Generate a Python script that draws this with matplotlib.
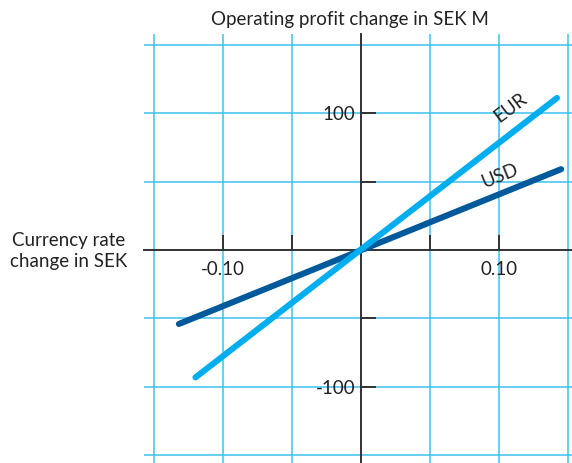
import matplotlib
matplotlib.use("Agg")
import matplotlib.pyplot as plt
from matplotlib.ticker import FixedLocator, FuncFormatter

plt.rcParams['font.family'] = ['Lato', 'DejaVu Sans']

# currency sensitivity: change in rate vs change in operating profit (SEK M)
eur_rate = [-0.12, 0.142]
eur_profit = [-93, 111]
usd_rate = [-0.132, 0.145]
usd_profit = [-54, 59]

grid_x = [-0.15, -0.10, -0.05, 0.05, 0.10, 0.15]
grid_y = [-150, -100, -50, 50, 100, 150]
tick_x = [-0.10, -0.05, 0.05, 0.10]
tick_y = [-100, -50, 50, 100]
labels_x = {-0.10: "-0.10", 0.10: "0.10"}
labels_y = {-100: "-100", 100: "100"}

grid_col = "#3EC0F0"
axis_col = "#333333"
txt_col = "#222222"
fs = 13.5

fig = plt.figure(figsize=(5.72, 4.63), dpi=100)
ax = fig.add_axes([144 / 572, 0.0, 428 / 572, 429 / 463])
ax.set_xlim(-0.1573, 0.1529)
ax.set_ylim(-155.5, 157.7)

for gx in grid_x:
    ax.axvline(gx, color=grid_col, lw=1.1, zorder=1)
for gy in grid_y:
    ax.axhline(gy, color=grid_col, lw=1.1, zorder=1)

ax.plot(usd_rate, usd_profit, color="#00599A", lw=4.4, solid_capstyle="round", zorder=3)
ax.plot(eur_rate, eur_profit, color="#00AEEF", lw=4.4, solid_capstyle="round", zorder=4)

ax.text(0.108, 104, "EUR", rotation=37, ha="center", va="center", fontsize=fs, color=txt_col)
ax.text(0.101, 54, "USD", rotation=22, ha="center", va="center", fontsize=fs, color=txt_col)

for side in ("top", "right"):
    ax.spines[side].set_visible(False)
for side in ("left", "bottom"):
    ax.spines[side].set_position("zero")
    ax.spines[side].set_color(axis_col)
    ax.spines[side].set_linewidth(1.4)
    ax.spines[side].set_zorder(2)

ax.xaxis.set_major_locator(FixedLocator(tick_x))
ax.yaxis.set_major_locator(FixedLocator(tick_y))
ax.xaxis.set_major_formatter(FuncFormatter(lambda v, p: labels_x.get(round(v, 2), "")))
ax.yaxis.set_major_formatter(FuncFormatter(lambda v, p: labels_y.get(int(round(v)), "")))
ax.tick_params(axis="x", direction="in", length=11, width=1.4, color=axis_col,
               pad=8, labelsize=fs, labelcolor=txt_col)
ax.tick_params(axis="y", direction="in", length=11, width=1.4, color=axis_col,
               pad=4, labelsize=fs, labelcolor=txt_col)

fig.text(350 / 572, 1 - 19 / 463, "Operating profit change in SEK M",
         ha="center", va="center", fontsize=fs, color=txt_col)
fig.text(69 / 572, 1 - 251 / 463, "Currency rate\nchange in SEK",
         ha="center", va="center", fontsize=fs, color=txt_col, linespacing=1.3)

fig.savefig("out.png", dpi=100)
